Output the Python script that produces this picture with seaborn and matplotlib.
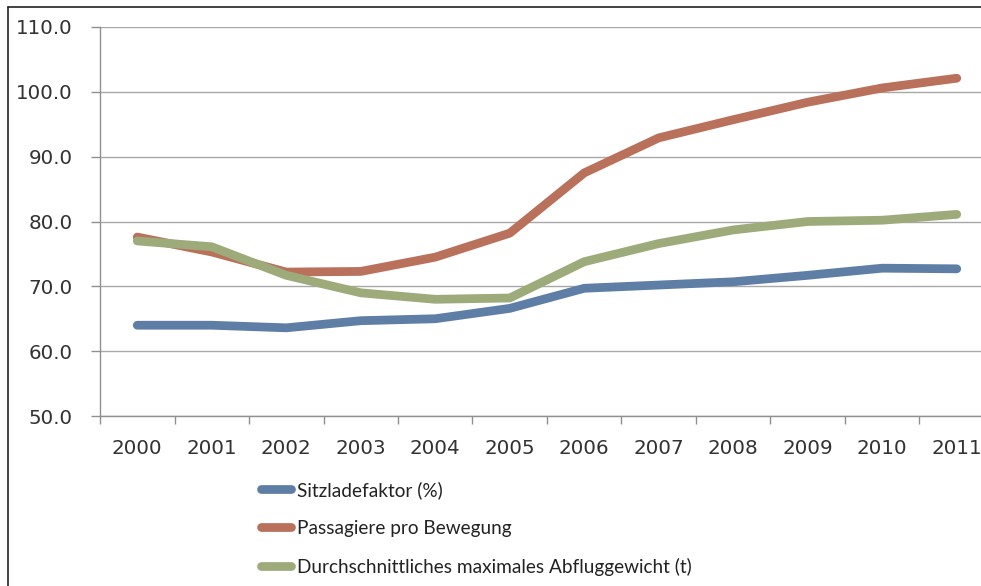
import numpy as np
import pandas as pd
import matplotlib
matplotlib.use("Agg")
import matplotlib.pyplot as plt
import seaborn as sns
from matplotlib.lines import Line2D

years = ["2000", "2001", "2002", "2003", "2004", "2005", "2006", "2007", "2008", "2009", "2010", "2011"]
sitzladefaktor = [64.0, 64.0, 63.6, 64.7, 65.0, 66.6, 69.7, 70.2, 70.7, 71.7, 72.8, 72.7]
passagiere = [77.6, 75.3, 72.2, 72.3, 74.5, 78.2, 87.5, 92.9, 95.7, 98.4, 100.6, 102.1]
abfluggewicht = [77.0, 76.1, 71.7, 69.0, 68.0, 68.2, 73.8, 76.6, 78.7, 80.0, 80.2, 81.1]

series_names = ["Sitzladefaktor (%)", "Passagiere pro Bewegung",
                "Durchschnittliches maximales Abfluggewicht (t)"]
colors = ["#5F7EA6", "#B9715C", "#9DAB7A"]

rows = []
for name, vals in zip(series_names, [sitzladefaktor, passagiere, abfluggewicht]):
    for i, v in enumerate(vals):
        rows.append({"idx": i, "value": v, "series": name})
df = pd.DataFrame(rows)

sns.set_theme(style="white")
plt.rcParams["font.family"] = ["DejaVu Sans"]

W, H = 981, 586
fig = plt.figure(figsize=(W / 100, H / 100), dpi=100)
ax = fig.add_axes([100 / W, 170 / H, 894 / W, 389 / H])

sns.lineplot(data=df, x="idx", y="value", hue="series", hue_order=series_names,
             palette=colors, linewidth=6.3, ax=ax, legend=False, sort=False,
             solid_capstyle="round", solid_joinstyle="round")

ax.set_xlim(-0.5, 11.5)
ax.set_ylim(50, 110)
ax.set_yticks(np.arange(50, 111, 10))
ax.set_yticklabels([f"{v:.1f}" for v in np.arange(50, 111, 10)])
ax.yaxis.grid(True, color="#A8A8A8", linewidth=1.0)
ax.set_axisbelow(True)

ax.set_xticks(np.arange(-0.5, 12, 1))
ax.set_xticklabels([])
ax.set_xticks(np.arange(12), minor=True)
ax.set_xticklabels(years, minor=True)
ax.tick_params(axis="x", which="major", length=5.5, width=1, color="#909090", direction="out", bottom=True)
ax.tick_params(axis="x", which="minor", length=0, pad=16.5, labelsize=14.3, labelcolor="#333333")
ax.tick_params(axis="y", which="major", length=6.5, width=1, color="#909090", direction="out", left=True,
               pad=13, labelsize=14.3, labelcolor="#333333")

for s in ["top", "right"]:
    ax.spines[s].set_visible(False)
for s in ["left", "bottom"]:
    ax.spines[s].set_color("#909090")
    ax.spines[s].set_linewidth(1.0)
ax.set_xlabel("")
ax.set_ylabel("")

handles = [Line2D([0], [0], color=c, linewidth=6.3, solid_capstyle="round") for c in colors]
leg = fig.legend(handles, series_names, loc="upper left",
                 bbox_to_anchor=(261 / W, 1 - 481 / H), frameon=False,
                 prop={"family": "Lato", "size": 13.7}, handlelength=1.6,
                 handletextpad=0.3, labelspacing=1.1, borderaxespad=0, borderpad=0)
for t in leg.get_texts():
    t.set_color("#222222")

# outer chart frame (left and top edges visible)
fig.add_artist(Line2D([8 / W, 8 / W], [0, 1 - 7 / H], transform=fig.transFigure, color="#222222", linewidth=1.2))
fig.add_artist(Line2D([8 / W, 1], [1 - 7 / H, 1 - 7 / H], transform=fig.transFigure, color="#222222", linewidth=1.2))

fig.savefig("out.png", dpi=100)
